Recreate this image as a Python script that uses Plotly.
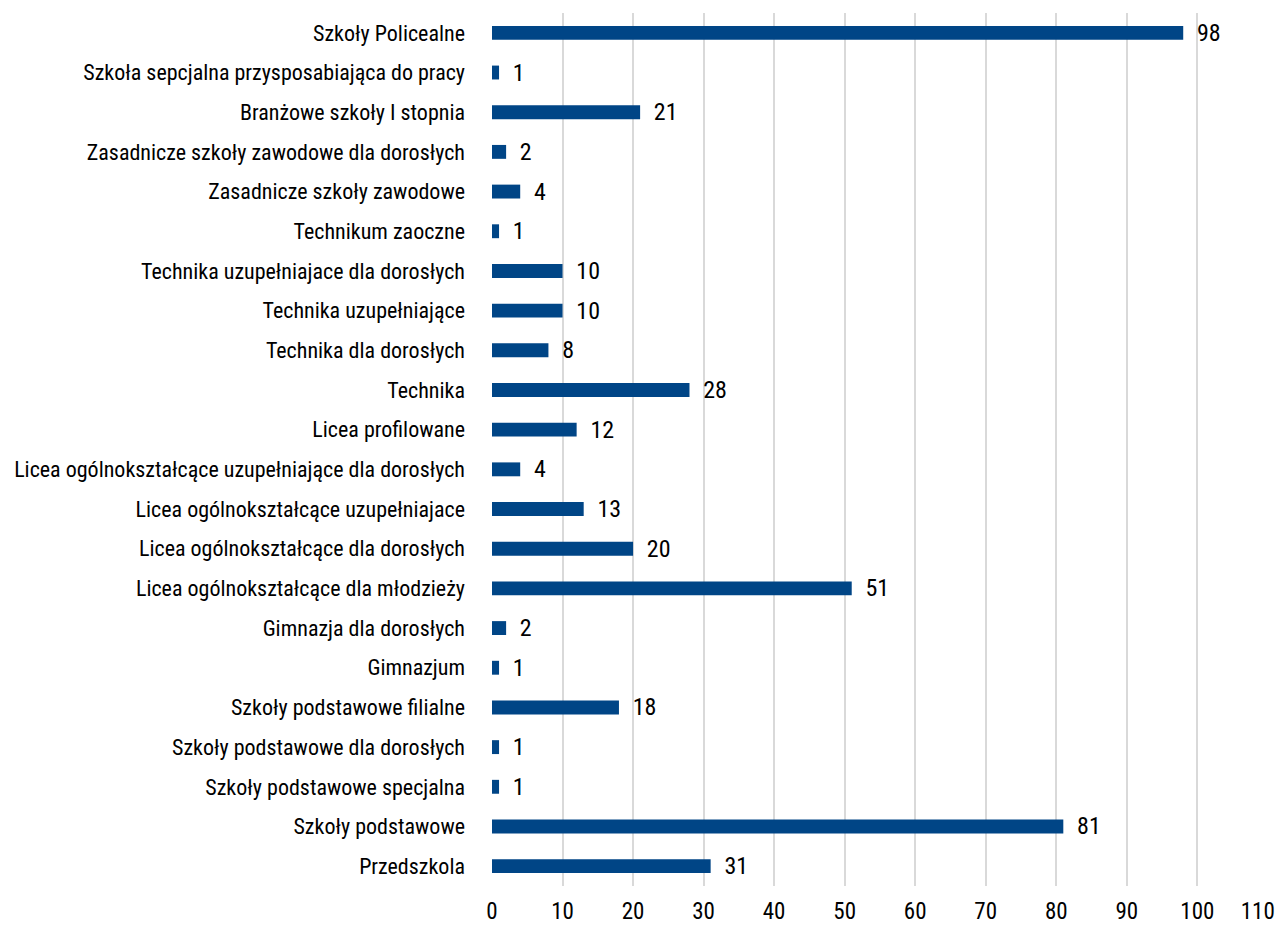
import plotly.graph_objects as go

categories = [
    "Przedszkola",
    "Szkoły podstawowe",
    "Szkoły podstawowe specjalna",
    "Szkoły podstawowe dla dorosłych",
    "Szkoły podstawowe filialne",
    "Gimnazjum",
    "Gimnazja dla dorosłych",
    "Licea ogólnokształcące dla młodzieży",
    "Licea ogólnokształcące dla dorosłych",
    "Licea ogólnokształcące uzupełniajace",
    "Licea ogólnokształcące uzupełniające dla dorosłych",
    "Licea profilowane",
    "Technika",
    "Technika dla dorosłych",
    "Technika uzupełniające",
    "Technika uzupełniajace dla dorosłych",
    "Technikum zaoczne",
    "Zasadnicze szkoły zawodowe",
    "Zasadnicze szkoły zawodowe dla dorosłych",
    "Branżowe szkoły I stopnia",
    "Szkoła sepcjalna przysposabiająca do pracy",
    "Szkoły Policealne",
]
values = [31, 81, 1, 1, 18, 1, 2, 51, 20, 13, 4, 12, 28, 8, 10, 10, 1, 4, 2, 21, 1, 98]
x_ticks = [0, 10, 20, 30, 40, 50, 60, 70, 80, 90, 100, 110]
x_tick_labels = ["0", "10", "20", "30", "40", "50", "60", "70", "80", "90", "100", "110\u2003"]

FONT = "Roboto Condensed, DejaVu Sans Condensed, Liberation Sans Narrow, Roboto, sans-serif"

fig = go.Figure(
    go.Bar(
        y=categories,
        x=values,
        orientation="h",
        marker=dict(color="#004586", line=dict(width=0)),
        text=values,
        texttemplate="\u2002%{x}",
        textposition="outside",
        constraintext="none",
        textfont=dict(family=FONT, size=24, color="#000000"),
        cliponaxis=False,
    )
)

fig.update_layout(
    width=1269,
    height=920,
    margin=dict(l=484, r=9, t=5, b=42, autoexpand=False),
    paper_bgcolor="white",
    plot_bgcolor="white",
    bargap=0.65,
    showlegend=False,
    font=dict(family=FONT, size=22, color="#000000"),
)
fig.update_xaxes(
    range=[0, 110.02],
    tickmode="array",
    tickvals=x_ticks,
    ticktext=x_tick_labels,
    ticklabeloverflow="allow",
    showgrid=True,
    gridcolor="#d9d9d9",
    gridwidth=2,
    zeroline=False,
    showline=False,
    ticks="",
    automargin=False,
    ticklabelstandoff=9,
    tickfont=dict(family=FONT, size=23, color="#000000"),
)
fig.update_yaxes(
    type="category",
    showgrid=False,
    zeroline=False,
    showline=False,
    ticks="",
    automargin=False,
    ticklabelstandoff=26,
    tickfont=dict(family=FONT, size=22, color="#000000"),
)

fig.write_html("out.html")
